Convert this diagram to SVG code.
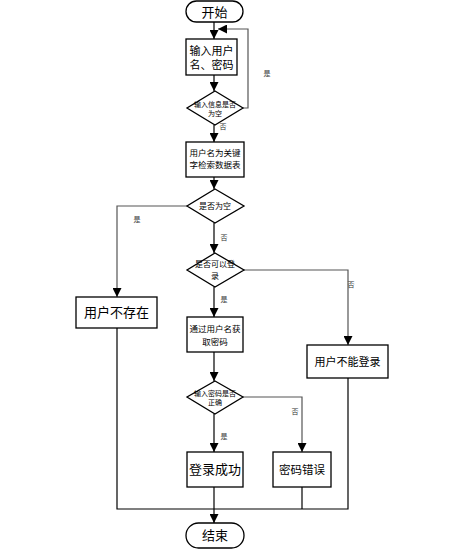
<svg xmlns="http://www.w3.org/2000/svg" width="467" height="552" viewBox="0 0 467 552">
<defs>
<marker id="ah" viewBox="0 0 10 10" refX="10" refY="5" markerWidth="9" markerHeight="9" markerUnits="userSpaceOnUse" orient="auto">
<path d="M0,0 L10,5 L0,10 z" fill="#000"/>
</marker>
</defs>
<style>
.n{fill:#fff;stroke:#000;stroke-width:1.3}
.t{font-family:"Liberation Sans","Noto Sans CJK SC",sans-serif;fill:#000;text-anchor:middle}
.c{fill:none;stroke:#000;stroke-width:1.2}
.g{fill:none;stroke:#555;stroke-width:1.2}
.l{font-family:"Liberation Sans","Noto Sans CJK SC",sans-serif;fill:#333;font-size:7px;text-anchor:middle}
</style>
<rect width="467" height="552" fill="#fff"/>
<g id="connectors">
<path class="c" d="M214,22 V39" marker-end="url(#ah)"/>
<path class="c" d="M214,75 V91" marker-end="url(#ah)"/>
<path class="g" d="M243,108 H248 V29 H218" marker-end="url(#ah)"/>
<path class="c" d="M214,125 V142" marker-end="url(#ah)"/>
<path class="c" d="M214,177 V189" marker-end="url(#ah)"/>
<path class="g" d="M187,206 H117 V297" marker-end="url(#ah)"/>
<path class="c" d="M214,223 V253" marker-end="url(#ah)"/>
<path class="g" d="M243,270 H348 V345" marker-end="url(#ah)"/>
<path class="c" d="M214,287 V317" marker-end="url(#ah)"/>
<path class="c" d="M214,352 V381" marker-end="url(#ah)"/>
<path class="g" d="M243,397 H302 V452" marker-end="url(#ah)"/>
<path class="c" d="M214,414 V452" marker-end="url(#ah)"/>
<path class="c" d="M214,487 V523" marker-end="url(#ah)"/>
<path class="c" d="M117,328 V509 H348 V378"/>
<path class="c" d="M302,487 V509"/>
<text class="l" x="267" y="76">是</text>
<text class="l" x="223" y="129">否</text>
<text class="l" x="137" y="222">是</text>
<text class="l" x="224" y="240">否</text>
<text class="l" x="351" y="287">否</text>
<text class="l" x="224" y="302">是</text>
<text class="l" x="295" y="414">否</text>
<text class="l" x="224" y="439">是</text>
</g>
<g id="start">
<rect class="n" x="186" y="1" width="57" height="21" rx="10.5"/>
<text class="t" x="214.5" y="16.5" font-size="13">开始</text>
</g>
<g id="input">
<rect class="n" x="186" y="39" width="51" height="36" stroke-width="2"/>
<text class="t" x="211.5" y="55" font-size="11">输入用户</text>
<text class="t" x="211.5" y="69" font-size="11">名、密码</text>
</g>
<g id="check-empty">
<polygon class="n" points="215,91 243,108 215,125 187,108"/>
<text class="t" x="215" y="107" font-size="7">输入信息是否</text>
<text class="t" x="215" y="116" font-size="7">为空</text>
</g>
<g id="search">
<rect class="n" x="186" y="142" width="58" height="35" stroke-width="1.6"/>
<text class="t" x="215" y="156" font-size="8.5">用户名为关键</text>
<text class="t" x="215" y="168" font-size="8.5">字检索数据表</text>
</g>
<g id="is-null">
<polygon class="n" points="215,189 244,206 215,223 187,206"/>
<text class="t" x="215" y="209" font-size="8">是否为空</text>
</g>
<g id="not-exist">
<rect class="n" x="76" y="297" width="81" height="31"/>
<text class="t" x="116.5" y="317" font-size="13">用户不存在</text>
</g>
<g id="can-login">
<polygon class="n" points="215,253 244,270 215,287 187,270"/>
<text class="t" x="215" y="267" font-size="8">是否可以登</text>
<text class="t" x="215" y="279" font-size="8">录</text>
</g>
<g id="cannot-login">
<rect class="n" x="307" y="345" width="81" height="33"/>
<text class="t" x="347.5" y="366" font-size="11">用户不能登录</text>
</g>
<g id="get-pwd">
<rect class="n" x="187" y="317" width="56" height="35"/>
<text class="t" x="215" y="332" font-size="8.5">通过用户名获</text>
<text class="t" x="215" y="345" font-size="8.5">取密码</text>
</g>
<g id="pwd-ok">
<polygon class="n" points="215,381 243,397 215,414 187,397"/>
<text class="t" x="215" y="396" font-size="7">输入密码是否</text>
<text class="t" x="215" y="405" font-size="7">正确</text>
</g>
<g id="success">
<rect class="n" x="187" y="452" width="56" height="35"/>
<text class="t" x="215" y="474" font-size="13">登录成功</text>
</g>
<g id="pwd-wrong">
<rect class="n" x="273" y="452" width="58" height="35"/>
<text class="t" x="302" y="474" font-size="11.5">密码错误</text>
</g>
<g id="end">
<rect class="n" x="186" y="523" width="58" height="25" rx="12.5"/>
<text class="t" x="215" y="540" font-size="13">结束</text>
</g>
</svg>
